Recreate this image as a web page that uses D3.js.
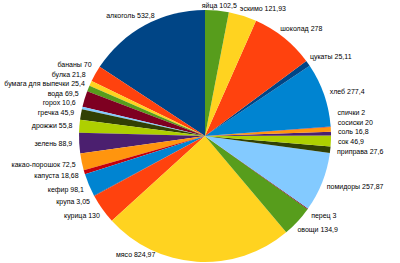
<!DOCTYPE html>
<html>
<head>
<meta charset="utf-8">
<script src="https://cdn.jsdelivr.net/npm/d3@7"></script>
<style>
  html, body { margin: 0; padding: 0; background: #fff; }
</style>
</head>
<body>
<div id="chart"></div>
<script>
const categories = [
  'алкоголь', 'бананы', 'булка', 'бумага для выпечки', 'вода', 'горох',
  'гречка', 'дрожжи', 'зелень', 'какао-порошок', 'капуста', 'кефир',
  'крупа', 'курица', 'мясо', 'овощи', 'перец', 'помидоры', 'приправа',
  'сок', 'соль', 'сосиски', 'спички', 'хлеб', 'цукаты', 'шоколад',
  'эскимо', 'яйца',
];
const values = [
  532.8, 70, 21.8, 25.4, 69.5, 10.6,
  45.9, 55.8, 88.9, 72.5, 18.68, 98.1,
  3.05, 130, 824.97, 134.9, 3, 257.87, 27.6,
  46.9, 16.8, 20, 2, 277.4, 25.11, 278,
  121.93, 102.5,
];
const palette = [
  '#004586', '#ff420e', '#ffd320', '#579d1c', '#7e0021', '#83caff',
  '#314004', '#aecf00', '#4b1f6f', '#ff950e', '#c5000b', '#0084d1',
];

const width = 400;
const height = 263;
const cx = 205;
const cy = 136;
const radius = 126;
const font = '"Liberation Sans", Arial, sans-serif';

const data = categories.map((name, i) => ({name, value: values[i]}));

const svg = d3.select('#chart')
  .append('svg')
  .attr('width', width)
  .attr('height', height)
  .style('display', 'block');

const g = svg.append('g')
  .attr('transform', 'translate(' + cx + ',' + cy + ')');

// counter-clockwise from 12 o'clock, like the office default
const pie = d3.pie()
  .sort(null)
  .value((d) => d.value)
  .startAngle(0)
  .endAngle(-2 * Math.PI);

const arc = d3.arc().innerRadius(0).outerRadius(radius);
const color = d3.scaleOrdinal().domain(categories).range(palette);

const arcs = pie(data);

g.selectAll('path.slice')
  .data(arcs)
  .join('path')
  .attr('class', 'slice')
  .attr('d', arc)
  .attr('fill', (d) => color(d.data.name));

const fmt = (v) => String(v).replace('.', ',');

// labels
const labelR = radius + 7;
const lineH = 9;
const minY = 5;
const maxY = 254;

const labels = arcs.map((d) => {
  const a = (d.startAngle + d.endAngle) / 2;
  return {d, a, text: d.data.name + ' ' + fmt(d.data.value)};
});

const texts = g.selectAll('text.lbl')
  .data(labels)
  .join('text')
  .attr('class', 'lbl')
  .attr('font-family', font)
  .attr('font-size', 7)
  .attr('fill', '#000')
  .attr('text-anchor', 'middle')
  .attr('dominant-baseline', 'central')
  .text((l) => l.text);

texts.each(function (l) {
  l.w = this.getComputedTextLength();
});

labels.forEach((l) => {
  const px = Math.sin(l.a) * labelR;
  const py = -Math.cos(l.a) * labelR;
  l.x = px + Math.sin(l.a) * l.w / 2;
  l.y = py - Math.cos(l.a) * lineH / 2;
  const top = minY - cy;
  const bottom = maxY - cy;
  if (l.y > bottom) {
    // slide the label along the rim until it fits
    const c = -(bottom - lineH / 2) / labelR;
    const side = Math.sin(l.a) < 0 ? -1 : 1;
    const a2 = side * Math.acos(Math.max(-1, Math.min(1, c)));
    l.x = Math.sin(a2) * labelR;
    l.y = bottom;
  } else if (l.y < top) {
    l.y = top;
  }
});

// keep labels on each side from overlapping
const gap = 9.6;
[1, -1].forEach((side) => {
  const list = labels
    .filter((l) => Math.sign(Math.sin(l.a)) === side && Math.abs(l.y) < radius)
    .sort((p, q) => p.y - q.y);
  for (let i = list.length - 2; i >= 0; i--) {
    if (list[i].y > list[i + 1].y - gap) list[i].y = list[i + 1].y - gap;
  }
  for (let i = 1; i < list.length; i++) {
    if (list[i].y < list[i - 1].y + gap) list[i].y = list[i - 1].y + gap;
  }
});

// labels pinned to the top edge: push apart sideways
const topRow = labels
  .filter((l) => l.y <= minY - cy + 0.1)
  .sort((p, q) => p.x - q.x);
for (let i = 1; i < topRow.length; i++) {
  const prev = topRow[i - 1];
  const cur = topRow[i];
  const need = prev.x + prev.w / 2 + 3 + cur.w / 2;
  if (cur.x < need) {
    cur.x = need;
    cur.y += 3;
  }
}

texts
  .attr('x', (l) => l.x)
  .attr('y', (l) => l.y);
</script>
</body>
</html>
